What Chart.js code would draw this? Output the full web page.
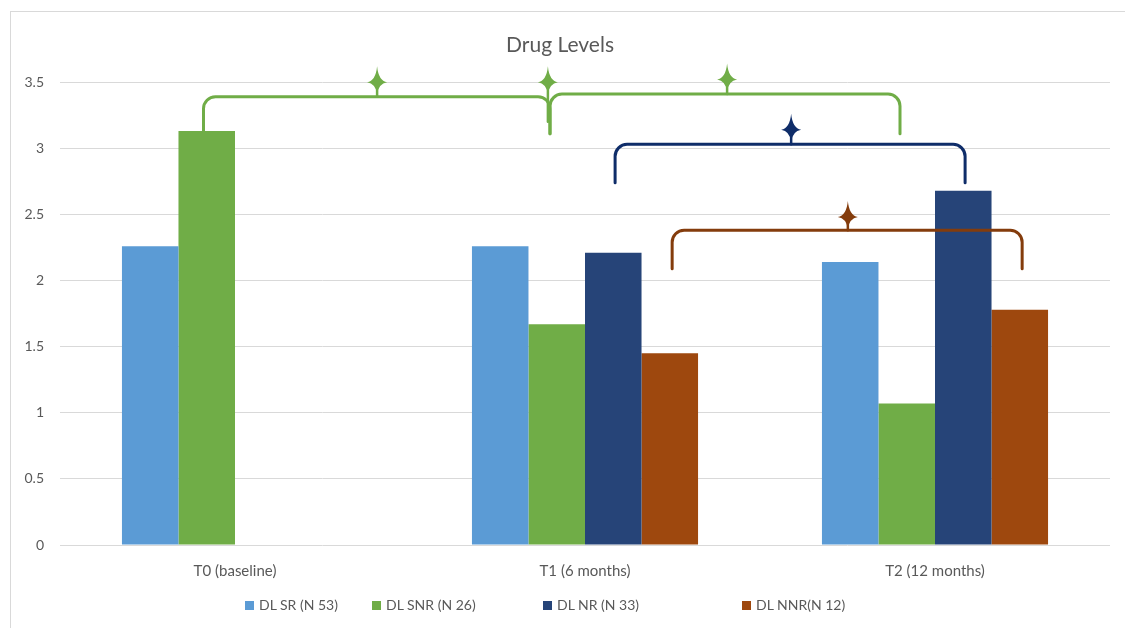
<!DOCTYPE html>
<html>
<head>
<meta charset="utf-8">
<script src="https://cdn.jsdelivr.net/npm/chart.js@4.4.1/dist/chart.umd.min.js"></script>
<style>
  body { margin: 0; background: #fff; }
  #wrap { position: relative; width: 1125px; height: 628px; }
  #frame { position: absolute; left: 10px; top: 11px; right: 0; bottom: 0;
           border-left: 1px solid #d9d9d9; border-top: 1px solid #d9d9d9; }
  #legend { position: absolute; top: 596px; left: 0; width: 1125px; height: 20px;
            font-family: Lato, sans-serif; font-size: 14px; color: #595959; }
  #legend span.item { position: absolute; white-space: nowrap; }
  #legend i { display: inline-block; width: 9px; height: 9px; margin-right: 5px; vertical-align: 0px; }
</style>
</head>
<body>
<div id="wrap">
  <div id="frame"></div>
  <canvas id="drugChart" width="1125" height="628"></canvas>
  <div id="legend"></div>
</div>
<script>
const categories = ["T0 (baseline)", "T1 (6 months)", "T2 (12 months)"];
const seriesNames = ["DL SR (N 53)", "DL SNR (N 26)", "DL NR (N 33)", "DL NNR(N 12)"];
const dlSR = [2.26, 2.26, 2.14];
const dlSNR = [3.13, 1.67, 1.07];
const dlNR = [null, 2.21, 2.68];
const dlNNR = [null, 1.45, 1.78];
const colors = ["#5B9BD5", "#70AD47", "#264478", "#9E480E"];

// significance brackets: x in category units, y in data units
const brackets = [
    { color: "#70AD47", x0: -0.09, y0: 3.13, x1: 0.9, y1: 3.11, top: 3.39 },
    { color: "#70AD47", x0: 0.9, y0: 3.11, x1: 1.9, y1: 3.11, top: 3.41 },
    { color: "#0F2D69", x0: 1.086, y0: 2.74, x1: 2.086, y1: 2.74, top: 3.03 },
    { color: "#843C0C", x0: 1.249, y0: 2.09, x1: 2.249, y1: 2.09, top: 2.38 },
];
// stars: [x, y center, y of line below, colour]
const stars = [
    [0.406, 3.5, 3.39, "#70AD47"],
    [0.894, 3.5, 3.2, "#70AD47"],
    [1.406, 3.52, 3.41, "#70AD47"],
    [1.589, 3.14, 3.03, "#0F2D69"],
    [1.751, 2.48, 2.38, "#843C0C"],
];

const bracketPlugin = {
    id: "brackets",
    afterDatasetsDraw(chart) {
        const ctx = chart.ctx;
        const x = chart.scales.x;
        const y = chart.scales.y;
        ctx.save();
        ctx.lineWidth = 3;
        ctx.lineJoin = "round";
        ctx.lineCap = "round";
        brackets.forEach((b) => {
            const ax = x.getPixelForValue(b.x0), ay = y.getPixelForValue(b.y0);
            const bx = x.getPixelForValue(b.x1), by = y.getPixelForValue(b.y1);
            const ty = y.getPixelForValue(b.top);
            ctx.strokeStyle = b.color;
            ctx.beginPath();
            ctx.moveTo(ax, ay);
            ctx.arcTo(ax, ty, ax + 12, ty, 12);
            ctx.arcTo(bx, ty, bx, ty + 12, 12);
            ctx.lineTo(bx, by);
            ctx.stroke();
        });
        stars.forEach((s) => {
            const cx = x.getPixelForValue(s[0]);
            const cy = y.getPixelForValue(s[1]);
            const ly = y.getPixelForValue(s[2]);
            ctx.fillStyle = s[3];
            ctx.strokeStyle = s[3];
            ctx.lineWidth = 2.5;
            ctx.beginPath();
            ctx.moveTo(cx, cy);
            ctx.lineTo(cx, ly);
            ctx.stroke();
            const w = 1.4;
            ctx.beginPath();
            ctx.moveTo(cx, cy - 16);
            ctx.quadraticCurveTo(cx + w, cy - w, cx + 10, cy);
            ctx.quadraticCurveTo(cx + w, cy + w, cx, cy + 12);
            ctx.quadraticCurveTo(cx - w, cy + w, cx - 10, cy);
            ctx.quadraticCurveTo(cx - w, cy - w, cx, cy - 16);
            ctx.fill();
        });
        ctx.restore();
    },
};

const datasets = [dlSR, dlSNR, dlNR, dlNNR].map((d, i) => ({
    label: seriesNames[i],
    data: d,
    backgroundColor: colors[i],
    borderWidth: 0,
}));

let drugCtx = document.getElementById("drugChart").getContext("2d");
let drugChart = new Chart(drugCtx, {
    type: "bar",
    data: {
        labels: categories,
        datasets: datasets,
    },
    options: {
        responsive: false,
        animation: false,
        layout: { padding: { left: 10, right: 15, top: 11, bottom: 0 } },
        datasets: { bar: { categoryPercentage: 0.646, barPercentage: 1.0 } },
        plugins: {
            legend: { display: false },
            tooltip: { enabled: false },
            title: {
                display: true,
                text: "Drug Levels",
                color: "#595959",
                font: { family: "Lato", size: 21, weight: "normal" },
                padding: { top: 22, bottom: 24 },
            },
        },
        scales: {
            x: {
                grid: { display: false },
                border: { display: false },
                ticks: {
                    color: "#595959",
                    font: { family: "Lato", size: 15 },
                    padding: 9,
                },
                afterFit: (scale) => { scale.height = 83; },
            },
            y: {
                min: 0,
                max: 3.5,
                grid: { color: "#d9d9d9", drawTicks: false },
                border: { display: false },
                ticks: {
                    stepSize: 0.5,
                    color: "#595959",
                    font: { family: "Lato", size: 14 },
                    padding: 16,
                    callback: (v) => String(v),
                },
                afterFit: (scale) => { scale.width = 50; },
            },
        },
    },
    plugins: [bracketPlugin],
});

// legend below the plot
const legendLeft = [245, 372, 543, 742];
const legendEl = document.getElementById("legend");
seriesNames.forEach((name, i) => {
    const item = document.createElement("span");
    item.className = "item";
    item.style.left = legendLeft[i] + "px";
    item.innerHTML = '<i style="background:' + colors[i] + '"></i>' + name;
    legendEl.appendChild(item);
});
</script>
</body>
</html>
